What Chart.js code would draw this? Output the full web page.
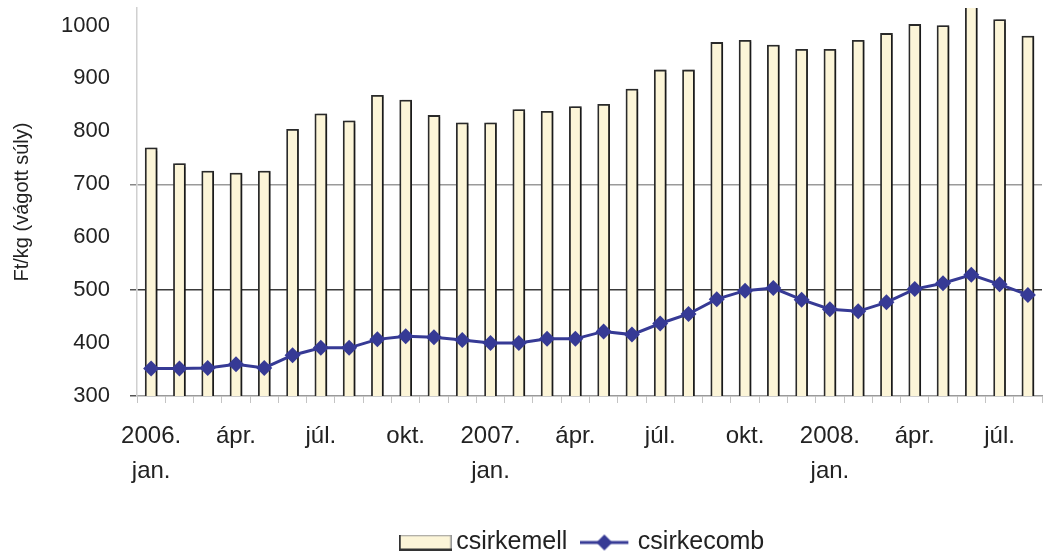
<!DOCTYPE html>
<html>
<head>
<meta charset="utf-8">
<script src="https://cdn.jsdelivr.net/npm/chart.js@4.4.1/dist/chart.umd.min.js"></script>
<style>
  html, body { margin: 0; padding: 0; background: #ffffff; }
  #wrap { width: 1050px; height: 555px; position: relative; }
</style>
</head>
<body>
<div id="wrap"><canvas id="c" width="1050" height="555"></canvas></div>
<script>
// ---- data ----
const xLabels = [
  ['2006.', 'jan.'], '', '', 'ápr.', '', '', 'júl.', '', '', 'okt.', '', '',
  ['2007.', 'jan.'], '', '', 'ápr.', '', '', 'júl.', '', '', 'okt.', '', '',
  ['2008.', 'jan.'], '', '', 'ápr.', '', '', 'júl.', ''
];
const csirkemell = [769, 739, 725, 721, 725, 804, 833, 820, 868, 859, 830, 816,
                    816, 841, 838, 847, 851, 880, 916, 916, 968, 972, 963, 955,
                    955, 972, 985, 1002, 1000, 1040, 1011, 980];
const csirkecomb = [352, 352, 353, 360, 353, 377, 391, 391, 407, 413, 411, 406,
                    400, 400, 408, 408, 422, 416, 437, 455, 483, 499, 504, 482,
                    464, 460, 477, 502, 513, 529, 511, 491];
const yTicks = [300, 400, 500, 600, 700, 800, 900, 1000];
const seriesNames = ['csirkemell', 'csirkecomb'];
const yTitle = 'Ft/kg (vágott súly)';

// ---- styles ----
const FONT = '"Liberation Sans", Arial, sans-serif';
const barFill = '#FCF5D8';
const barBorder = '#2a2a2a';
const lineColor = '#363A95';

// legend symbols
function barSymbol() {
  const c = document.createElement('canvas');
  c.width = 53; c.height = 16;
  const g = c.getContext('2d');
  g.fillStyle = barFill; g.fillRect(0, 0, 53, 16);
  g.strokeStyle = '#999'; g.lineWidth = 1.5; g.strokeRect(0.75, 0.75, 51.5, 14.5);
  g.strokeStyle = '#333'; g.lineWidth = 2;
  g.beginPath(); g.moveTo(1, 0); g.lineTo(1, 15); g.lineTo(53, 15); g.stroke();
  return c;
}
function lineSymbol() {
  const c = document.createElement('canvas');
  c.width = 53; c.height = 18;
  const g = c.getContext('2d');
  g.strokeStyle = lineColor; g.lineWidth = 3;
  g.beginPath(); g.moveTo(0, 9); g.lineTo(48, 9); g.stroke();
  g.fillStyle = lineColor;
  g.beginPath(); g.moveTo(24, 1); g.lineTo(32, 9); g.lineTo(24, 17); g.lineTo(16, 9); g.closePath(); g.fill();
  return c;
}
const symbols = [barSymbol(), lineSymbol()];

const shadowPlugin = {
  id: 'barShadow',
  beforeDatasetDraw(chart, args) {
    if (args.index === 0) {
      const ctx = chart.ctx;
      ctx.save();
      ctx.shadowColor = 'rgba(0,0,0,0.38)';
      ctx.shadowOffsetX = 2.5;
      ctx.shadowOffsetY = 0;
      ctx.shadowBlur = 1;
    }
  },
  afterDatasetDraw(chart, args) {
    if (args.index === 0) chart.ctx.restore();
  }
};

const legendShift = {
  id: 'legendShift',
  afterLayout(chart) {
    const L = chart.legend;
    if (L) { L.top += 10; L.bottom += 10; L.left -= 4; L.right -= 4; }
  }
};

new Chart(document.getElementById('c'), {
  data: {
    labels: xLabels,
    datasets: [
      {
        type: 'bar',
        label: seriesNames[0],
        data: csirkemell,
        backgroundColor: barFill,
        borderColor: barBorder,
        borderWidth: { top: 1.8, left: 1.8, right: 1.8, bottom: 0 },
        borderSkipped: false,
        barThickness: 12,
        order: 1
      },
      {
        type: 'line',
        label: seriesNames[1],
        data: csirkecomb,
        borderColor: lineColor,
        backgroundColor: lineColor,
        borderWidth: 3,
        pointStyle: 'rectRot',
        pointRadius: 8,
        pointHoverRadius: 8,
        pointBorderWidth: 0,
        tension: 0,
        order: 0
      }
    ]
  },
  options: {
    responsive: false,
    animation: false,
    devicePixelRatio: 1,
    layout: { padding: { top: 5, right: 4, left: 0, bottom: 0 } },
    scales: {
      x: {
        offset: true,
        grid: {
          offset: true,
          drawOnChartArea: false,
          drawTicks: true,
          tickLength: 7,
          tickColor: '#c4c4c4'
        },
        border: { display: true, color: '#9a9a9a', width: 1.5 },
        ticks: {
          autoSkip: false,
          maxRotation: 0,
          minRotation: 0,
          padding: 16,
          color: '#222',
          font: { family: FONT, size: 24, lineHeight: 1.46 }
        },
        afterFit(scale) {
          scale.height = 103;
          scale.paddingLeft = 0; scale.paddingRight = 0;
        }
      },
      y: {
        min: 300,
        max: 1033,
        afterBuildTicks(scale) {
          scale.ticks = yTicks.map(v => ({ value: v }));
        },
        grid: {
          drawTicks: true,
          tickLength: 7,
          lineWidth: 1.5,
          color(ctx) {
            const v = ctx.tick && ctx.tick.value;
            if (v === 500) return '#3a3a3a';
            if (v === 700) return '#9a9a9a';
            return 'rgba(0,0,0,0)';
          },
          tickColor(ctx) {
            const v = ctx.tick && ctx.tick.value;
            if (v === 500 || v === 300) return '#555';
            if (v === 700) return '#888';
            return 'rgba(0,0,0,0)';
          }
        },
        border: { display: true, color: '#d0d0d0', width: 1.5 },
        ticks: {
          padding: 20,
          color: '#222',
          font: { family: FONT, size: 22 },
          callback: (v) => String(v)
        },
        title: {
          display: true,
          text: yTitle,
          color: '#222',
          padding: { top: 10, bottom: 0 },
          font: { family: FONT, size: 20 }
        },
        afterFit(scale) {
          scale.width = 137;
          scale.paddingTop = 0; scale.paddingBottom = 0;
        }
      }
    },
    plugins: {
      legend: {
        display: true,
        position: 'bottom',
        fullSize: false,
        labels: {
          usePointStyle: true,
          pointStyleWidth: 37,
          boxHeight: 18,
          padding: 21,
          color: '#222',
          font: { family: FONT, size: 25 },
          generateLabels(chart) {
            return chart.data.datasets.map((ds, i) => ({
              text: ds.label,
              pointStyle: symbols[i],
              fillStyle: 'rgba(0,0,0,0)',
              strokeStyle: 'rgba(0,0,0,0)',
              lineWidth: 0,
              fontColor: '#222',
              hidden: false,
              datasetIndex: i
            }));
          }
        }
      },
      tooltip: { enabled: false }
    }
  },
  plugins: [shadowPlugin, legendShift]
});
</script>
</body>
</html>
